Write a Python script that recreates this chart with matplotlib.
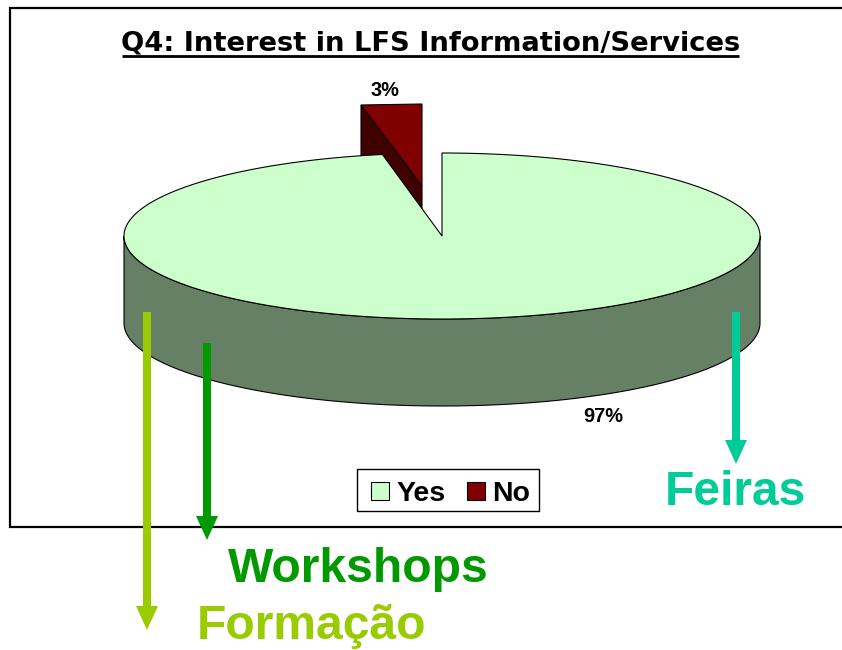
import numpy as np
import matplotlib
matplotlib.use("Agg")
import matplotlib.pyplot as plt
from matplotlib.patches import Polygon, Rectangle, FancyArrow

plt.rcParams['font.family'] = ['Liberation Sans', 'DejaVu Sans']

categories = ["Yes", "No"]
percent_values = [97, 3]
slice_colors = ["#CCFFCC", "#800000"]
title_text = "Q4: Interest in LFS Information/Services"
annotations = ["Feiras", "Workshops", "Formação"]
annotation_colors = ["#00CC99", "#009900", "#99CC00"]

W, H = 842, 650
fig = plt.figure(figsize=(W/100, H/100), dpi=100, facecolor="white")
ax = fig.add_axes([0, 0, 1, 1])
ax.set_xlim(0, W)
ax.set_ylim(H, 0)
ax.axis("off")

# chart frame: left, top and bottom only, running off the right edge
ax.plot([W + 5, 10, 10, W + 5], [8, 8, 526.5, 526.5], color="black", lw=1.6, zorder=0,
        solid_joinstyle="miter")

cx, cy, rx, ry = 442, 236, 318, 83
depth = 87

def pt(deg, d=0):
    t = np.deg2rad(deg)
    return (cx + rx*np.cos(t), cy - ry*np.sin(t) + d)

start = 90.0
end = start - 360 * percent_values[0] / sum(percent_values)
theta = np.linspace(start, end, 500)
top = [pt(a) for a in theta]

# side wall
front = np.linspace(180, 360, 200)
wall = [pt(a) for a in front] + [pt(a, d=depth) for a in front[::-1]]
ax.add_patch(Polygon(wall, closed=True, fc="#668066", ec="black", lw=0.8, zorder=1))

# Exploded No slice
dark = [(361, 105), (422, 186), (422, 209), (382, 155), (361, 157)]
red = [(361, 105), (422, 104), (422, 186)]
ax.add_patch(Polygon(dark, closed=True, fc="#400000", ec="black", lw=0.8, zorder=2))
ax.add_patch(Polygon(red, closed=True, fc=slice_colors[1], ec="black", lw=0.8, zorder=2))

# Yes top surface sits over the dark face
ax.add_patch(Polygon(top + [(cx, cy)], closed=True, fc=slice_colors[0], ec="black", lw=0.8, zorder=3))

# title
ax.text(430.5, 50.5, title_text, ha="center", va="baseline", fontsize=19.7,
        family=['DejaVu Sans'], fontweight="bold", zorder=6)
ax.plot([122, 739], [55.5, 55.5], color="black", lw=2.0, zorder=6, solid_capstyle="butt")

# data labels
ax.text(385, 96, f"{percent_values[1]}%", ha="center", va="baseline", fontsize=14.4, fontweight="bold", zorder=6)
ax.text(603, 422, f"{percent_values[0]}%", ha="center", va="baseline", fontsize=14.4, fontweight="bold", zorder=6)

# legend
ax.add_patch(Rectangle((357, 469), 182, 42, fc="white", ec="black", lw=1, zorder=5))
ax.add_patch(Rectangle((371, 482), 18, 18, fc=slice_colors[0], ec="black", lw=0.8, zorder=6))
ax.text(396, 501, categories[0], ha="left", va="baseline", fontsize=20.5, fontweight="bold", zorder=6)
ax.add_patch(Rectangle((467, 482), 18, 18, fc=slice_colors[1], ec="black", lw=0.8, zorder=6))
ax.text(492, 501, categories[1], ha="left", va="baseline", fontsize=20.5, fontweight="bold", zorder=6)

# arrows
def arrow(x, y0, y1, c, w=8, hw=22, hl=24):
    ax.add_patch(FancyArrow(x, y0, 0, y1-y0, width=w, head_width=hw, head_length=hl,
                            length_includes_head=True, color=c, lw=0, zorder=7))
arrow(736, 312, 464, annotation_colors[0])
arrow(207, 343, 540, annotation_colors[1])
arrow(147, 312, 630, annotation_colors[2])

ax.text(665, 505, annotations[0], color=annotation_colors[0], ha="left", va="baseline", fontsize=34.5, fontweight="bold", zorder=7)
ax.text(228, 582, annotations[1], color=annotation_colors[1], ha="left", va="baseline", fontsize=34.6, fontweight="bold", zorder=7)
ax.text(197, 639, annotations[2], color=annotation_colors[2], ha="left", va="baseline", fontsize=34.6, fontweight="bold", zorder=7)

fig.savefig("out.png", dpi=100, facecolor="white")
